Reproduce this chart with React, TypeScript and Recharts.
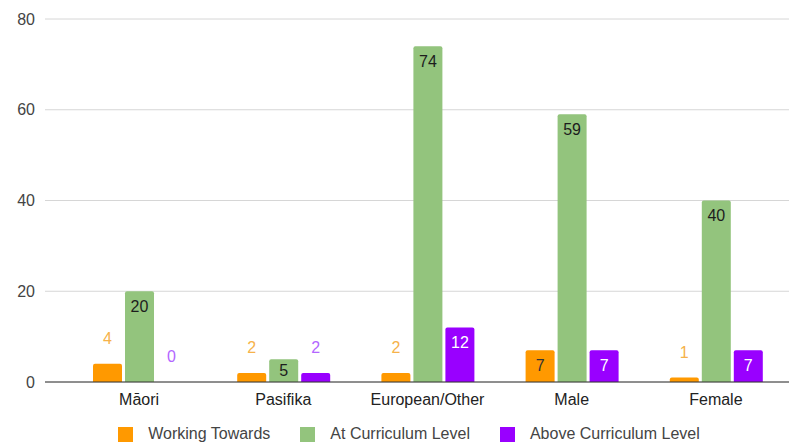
import { BarChart, Bar, XAxis, YAxis, CartesianGrid, Legend, LabelList } from 'recharts';

const categories = ['Māori', 'Pasifika', 'European/Other', 'Male', 'Female'];
const workingTowards = [4, 2, 2, 7, 1];
const atCurriculum = [20, 5, 74, 59, 40];
const aboveCurriculum = [0, 2, 12, 7, 7];
const yTicks = [0, 20, 40, 60, 80];

const series = [
  { key: 'working', name: 'Working Towards', color: '#ff9900', outside: '#f6b24a', inside: '#333333' },
  { key: 'at', name: 'At Curriculum Level', color: '#93c47d', outside: '#7fb069', inside: '#1d1d1d' },
  { key: 'above', name: 'Above Curriculum Level', color: '#9900ff', outside: '#b366ff', inside: '#ffffff' },
];

const data = categories.map((name, i) => ({
  name,
  working: workingTowards[i],
  at: atCurriculum[i],
  above: aboveCurriculum[i],
}));

const FONT = 'Arial, "Liberation Sans", sans-serif';

// Google-style label: inside the bar when it is tall enough, above it otherwise
function makeLabel(outside: string, inside: string) {
  return (props: any) => {
    const { x, y, width, height, value } = props;
    const cx = x + width / 2;
    const h = Math.abs(height);
    if (h >= 20) {
      const cy = y + Math.min(15, h / 2);
      return (
        <text x={cx} y={cy} textAnchor="middle" dominantBaseline="central" fill={inside} fontSize={16} fontFamily={FONT}>
          {value}
        </text>
      );
    }
    const top = Math.min(y, y + height);
    return (
      <text x={cx} y={top - 25} textAnchor="middle" dominantBaseline="central" fill={outside} fontSize={16} fontFamily={FONT}>
        {value}
      </text>
    );
  };
}

function LegendContent() {
  return (
    <div
      style={{
        display: 'flex',
        justifyContent: 'center',
        alignItems: 'center',
        paddingTop: 8,
        paddingLeft: 29,
        fontFamily: FONT,
        fontSize: 16,
        color: '#444',
      }}
    >
      {series.map((s) => (
        <div key={s.key} style={{ display: 'flex', alignItems: 'center', margin: '0 15px' }}>
          <span style={{ width: 15, height: 15, background: s.color, display: 'inline-block', marginRight: 15 }} />
          <span>{s.name}</span>
        </div>
      ))}
    </div>
  );
}

export default function App() {
  return (
    <div style={{ position: 'absolute', left: 0, top: 0, width: 789, height: 443, background: '#fff' }}>
      <BarChart
        width={789}
        height={443}
        data={data}
        margin={{ top: 19, right: 0, left: 0, bottom: 0 }}
        barGap={3}
        barSize={29}
      >
        <CartesianGrid vertical={false} stroke="#d6d6d6" />
        <XAxis
          dataKey="name"
          height={35}
          padding={{ left: 22, right: 1 }}
          tickLine={false}
          tickSize={0}
          tickMargin={12}
          axisLine={{ stroke: '#333' }}
          tick={{ fill: '#222', fontSize: 16, fontFamily: FONT }}
        />
        <YAxis
          width={45}
          domain={[0, 80]}
          ticks={yTicks}
          axisLine={false}
          tickLine={false}
          tickSize={0}
          tickMargin={10}
          tick={{ fill: '#444', fontSize: 16, fontFamily: FONT }}
        />
        <Legend verticalAlign="bottom" height={26} content={() => <LegendContent />} />
        {series.map((s) => (
          <Bar
            key={s.key}
            dataKey={s.key}
            name={s.name}
            fill={s.color}
            radius={[2, 2, 0, 0]}
            minPointSize={0.01}
            isAnimationActive={false}
          >
            <LabelList dataKey={s.key} content={makeLabel(s.outside, s.inside)} />
          </Bar>
        ))}
      </BarChart>
    </div>
  );
}
